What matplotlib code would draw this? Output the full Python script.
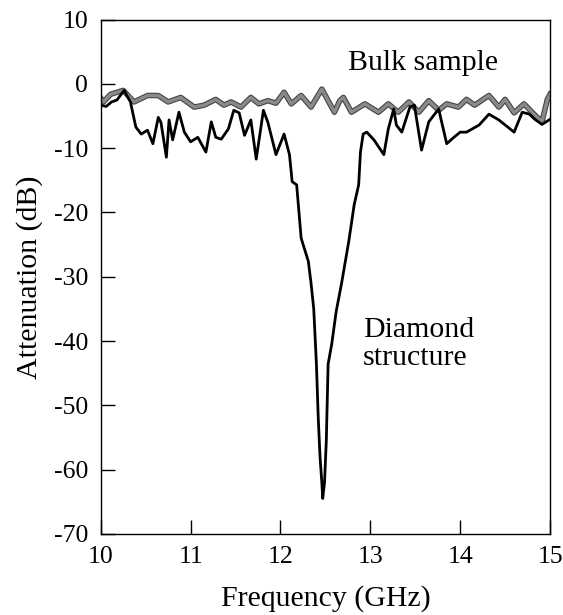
import matplotlib
matplotlib.use('Agg')
import matplotlib.pyplot as plt
import matplotlib.patheffects as pe

# diamond structure (black)
freq_d = [10.0, 10.06, 10.12, 10.18, 10.26, 10.33, 10.39, 10.45, 10.52, 10.58,
          10.64, 10.67, 10.73, 10.76, 10.80, 10.87, 10.93, 11.0, 11.08, 11.17,
          11.23, 11.28, 11.34, 11.42, 11.48, 11.54, 11.60, 11.67, 11.73, 11.81,
          11.86, 11.95, 12.04, 12.10, 12.13, 12.18, 12.23, 12.31, 12.34, 12.37,
          12.40, 12.42, 12.44, 12.46, 12.47, 12.49, 12.51, 12.53, 12.57, 12.62,
          12.68, 12.76, 12.82, 12.87, 12.89, 12.92, 12.96, 13.04, 13.15, 13.20,
          13.26, 13.29, 13.35, 13.44, 13.49, 13.57, 13.65, 13.76, 13.85, 13.93,
          14.0, 14.07, 14.21, 14.32, 14.43, 14.60, 14.69, 14.77, 14.83, 14.91, 15.0]
att_d = [-3.3, -3.5, -2.8, -2.5, -1.0, -2.8, -6.7, -7.8, -7.2, -9.3,
         -5.2, -6.0, -11.4, -5.6, -8.7, -4.4, -7.5, -9.0, -8.3, -10.6,
         -5.9, -8.3, -8.6, -7.0, -4.1, -4.5, -8.0, -5.6, -11.7, -4.1,
         -6.0, -11.0, -7.8, -11.0, -15.2, -15.7, -24.0, -27.6, -31.0, -35.0,
         -43.6, -51.9, -58.0, -62.0, -64.5, -62.0, -55.5, -43.6, -40.5, -35.4,
         -31.0, -24.5, -18.8, -15.7, -10.6, -7.8, -7.5, -8.7, -11.0, -7.0,
         -3.9, -6.4, -7.5, -3.6, -3.3, -10.3, -5.9, -3.9, -9.3, -8.3,
         -7.5, -7.5, -6.4, -4.7, -5.6, -7.5, -4.4, -4.7, -5.5, -6.3, -5.5]

# bulk sample (grey)
freq_b = [10.0, 10.03, 10.11, 10.25, 10.37, 10.52, 10.64, 10.75, 10.89, 11.04,
          11.15, 11.28, 11.37, 11.45, 11.56, 11.67, 11.76, 11.86, 11.95, 12.04,
          12.12, 12.23, 12.34, 12.46, 12.60, 12.66, 12.70, 12.79, 12.94, 13.09,
          13.20, 13.31, 13.43, 13.54, 13.65, 13.76, 13.85, 13.98, 14.07, 14.16,
          14.32, 14.43, 14.50, 14.60, 14.71, 14.80, 14.91, 14.97, 15.0]
att_b = [-2.2, -2.8, -1.6, -1.0, -2.8, -1.8, -1.8, -2.8, -2.1, -3.6,
         -3.3, -2.4, -3.3, -2.8, -3.6, -2.1, -3.1, -2.6, -3.0, -1.3,
         -3.1, -1.8, -3.6, -0.8, -4.4, -2.6, -2.1, -4.4, -3.1, -4.4,
         -3.1, -4.4, -2.8, -4.4, -2.6, -4.1, -3.1, -3.6, -2.4, -3.3,
         -1.8, -3.6, -2.4, -4.5, -3.1, -4.4, -5.9, -2.4, -1.6]

plt.rcParams['font.family'] = ['Liberation Serif', 'DejaVu Serif']
plt.rcParams['axes.unicode_minus'] = False

fig = plt.figure(figsize=(5.63, 6.15), dpi=100)
ax = fig.add_axes([0.179, 0.132, 0.798, 0.836])

ax.plot(freq_b, att_b, color='#8a8a8a', linewidth=2.4,
        path_effects=[pe.Stroke(linewidth=4, foreground='#444444'), pe.Normal()])
ax.plot(freq_d, att_d, color='black', linewidth=2.0)

ax.set_xlim(10, 15)
ax.set_ylim(-70, 10)
ax.set_xticks([10, 11, 12, 13, 14, 15])
ax.set_yticks(range(-70, 11, 10))
ax.tick_params(direction='in', length=10, width=1, labelsize=18.5,
               top=False, right=False, pad=9)
for s in ax.spines.values():
    s.set_linewidth(1.0)

ax.set_xlabel('Frequency (GHz)', fontsize=21.5, labelpad=12)
ax.set_ylabel('Attenuation (dB)', fontsize=21.5, labelpad=8)

ax.text(12.75, 3.3, 'Bulk sample', fontsize=21.5, ha='left', va='center')
ax.text(12.92, -40.5, 'Diamond\nstructure', fontsize=21.5, ha='left', va='center',
        linespacing=1.12)

plt.savefig('out.png', dpi=100)
